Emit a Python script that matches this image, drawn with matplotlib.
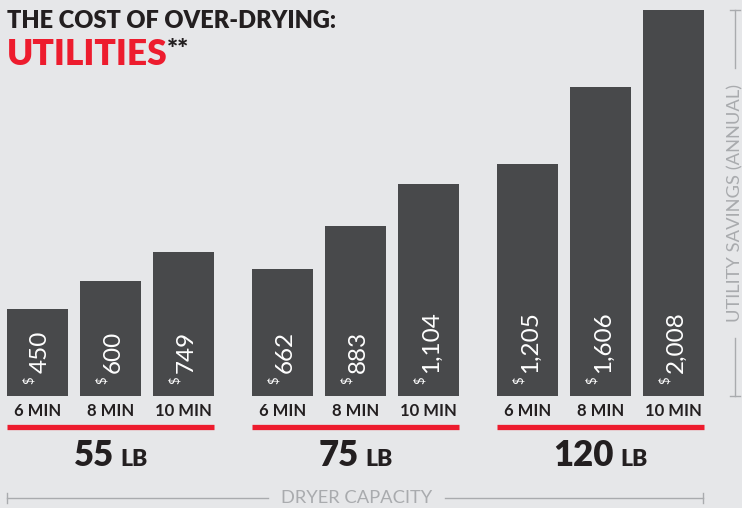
import matplotlib.pyplot as plt
from matplotlib.lines import Line2D

# дані
capacities = ['55', '75', '120']
times = ['6 MIN', '8 MIN', '10 MIN']
savings = [
    [450, 600, 749],
    [662, 883, 1104],
    [1205, 1606, 2008],
]

BG = '#e6e7e9'
BAR = '#48494b'
RED = '#ed1c2e'
DARK = '#231f20'
GRAY = '#a9abae'
FONT = 'Lato'

W, H = 742, 508
fig = plt.figure(figsize=(W / 100, H / 100), dpi=100, facecolor=BG)

def fx(px):
    return px / W

def fy(py):
    return 1 - py / H

# вісь: низ стовпців на 396 px, верх найвищого на 10 px
ax = fig.add_axes([0, fy(396), 1, (396 - 10) / H])
ax.set_facecolor(BG)
ax.set_xlim(0, W)
ax.set_ylim(0, max(max(s) for s in savings))
for sp in ax.spines.values():
    sp.set_visible(False)
ax.set_yticks([])

renderer = fig.canvas.get_renderer()
xs, labels = [], []
for g, vals in enumerate(savings):
    pos = [37.5 + 245 * g + 73 * i for i in range(len(vals))]
    ax.bar(pos, vals, width=61, color=BAR)
    for x, v in zip(pos, vals):
        ax.annotate(f'{v:,}', xy=(x, 0), xytext=(9, 23), textcoords='offset pixels',
                    rotation=90, rotation_mode='anchor', ha='left', va='baseline',
                    color='white', fontsize=17.5, family=FONT)
        ax.annotate('$', xy=(x, 0), xytext=(-5, 12), textcoords='offset pixels',
                    rotation=90, rotation_mode='anchor', ha='left', va='baseline',
                    color='white', fontsize=9.5, family=FONT)
    xs += pos
    labels += times

    # червона лінія під групою
    trans = ax.get_xaxis_transform()
    ax.add_line(Line2D([pos[0] - 30.5, pos[-1] + 30.5], [-31 / 386] * 2, transform=trans,
                       color=RED, lw=3.8, solid_capstyle='butt', clip_on=False))
    # підпис місткості: число + "LB", по центру групи
    t1 = ax.annotate(capacities[g], xy=(pos[1], 0), xytext=(0, -70), textcoords='offset pixels',
                     ha='right', va='baseline', fontsize=25, fontweight='heavy',
                     family=FONT, color=DARK, annotation_clip=False)
    t2 = ax.annotate('LB', xy=(pos[1], 0), xytext=(0, -70), textcoords='offset pixels',
                     ha='left', va='baseline', fontsize=16.5, fontweight='heavy',
                     family=FONT, color=DARK, annotation_clip=False)
    w1 = t1.get_window_extent(renderer).width
    w2 = t2.get_window_extent(renderer).width
    gap = 6
    shift = (w1 - w2 - gap) / 2
    t1.set_position((shift, -70))
    t2.set_position((shift + gap, -70))

ax.set_xticks(xs, labels)
ax.tick_params(axis='x', length=0, pad=5, labelsize=12, labelcolor=DARK)
for t in ax.get_xticklabels():
    t.set_fontfamily(FONT)
    t.set_fontweight('bold')

# заголовок
fig.text(fx(7), fy(28), 'THE COST OF OVER-DRYING:', fontsize=17, fontweight='heavy',
         family=FONT, color=DARK, va='baseline')
fig.text(fx(7), fy(65), 'UTILITIES', fontsize=25.5, fontweight='heavy',
         family=FONT, color=RED, va='baseline')
fig.text(fx(167), fy(58), '**', fontsize=19, fontweight='heavy', family=FONT,
         color=DARK, va='baseline')

# нижня вісь "DRYER CAPACITY"
fig.text(fx(357), fy(498), 'DRYER CAPACITY', fontsize=13.2, family=FONT, color=GRAY,
         ha='center', va='center')
for x0, x1 in [(7, 268), (445, 703)]:
    fig.add_artist(Line2D([fx(x0), fx(x1)], [fy(498)] * 2, color=GRAY, lw=1))
for x0 in (7, 703):
    fig.add_artist(Line2D([fx(x0)] * 2, [fy(493), fy(503)], color=GRAY, lw=1))

# права вісь "UTILITY SAVINGS (ANNUAL)"
fig.text(fx(735), fy(203), 'UTILITY SAVINGS (ANNUAL)', fontsize=13.2, family=FONT,
         color=GRAY, ha='center', va='center', rotation=90)
for y0, y1 in [(10, 68), (338, 396)]:
    fig.add_artist(Line2D([fx(735)] * 2, [fy(y0), fy(y1)], color=GRAY, lw=1))
for y0 in (10, 396):
    fig.add_artist(Line2D([fx(730), fx(740)], [fy(y0)] * 2, color=GRAY, lw=1))

fig.savefig('out.png', dpi=100, facecolor=BG)
